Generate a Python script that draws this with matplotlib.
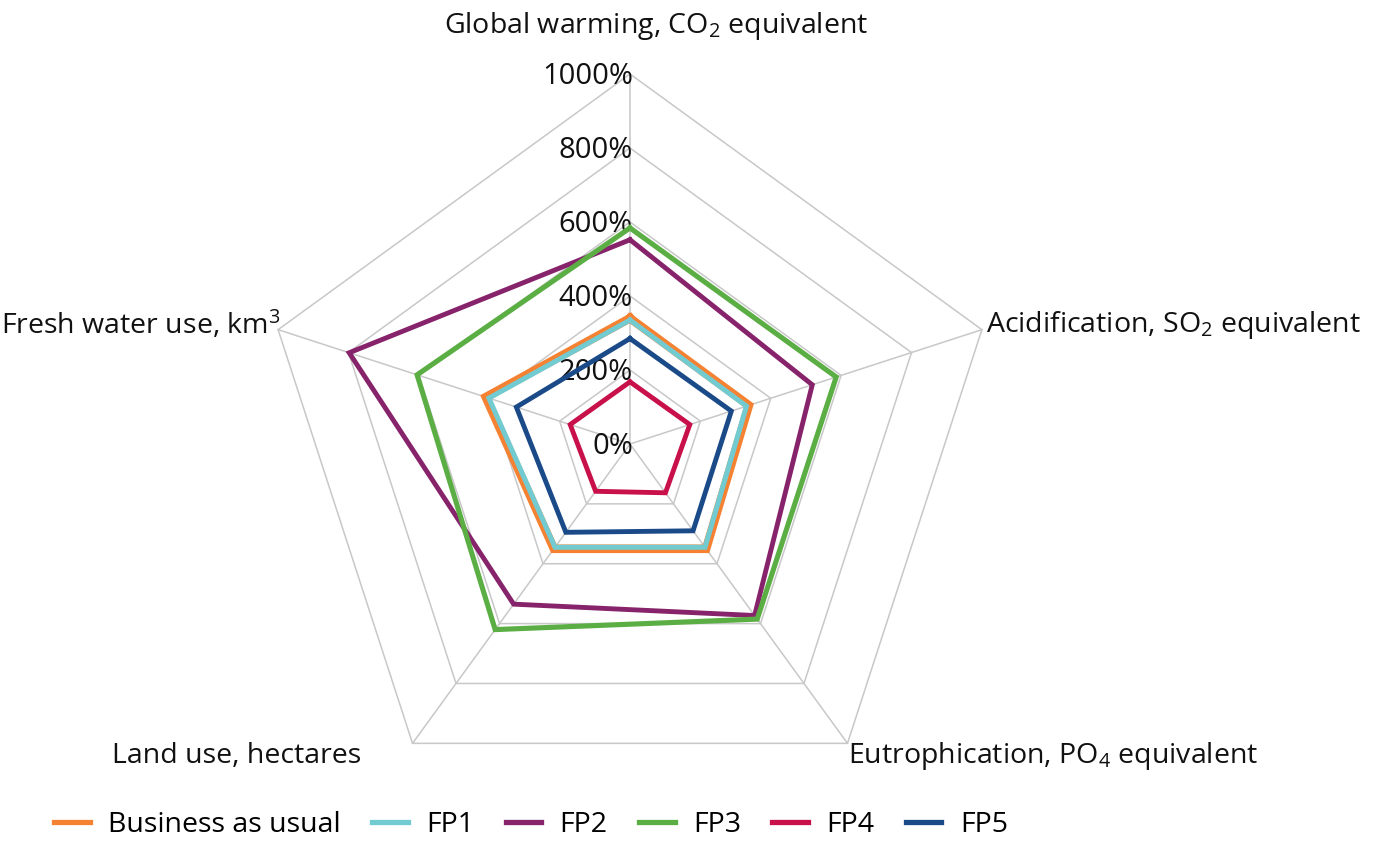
import numpy as np
import matplotlib.pyplot as plt

plt.rcParams['font.family'] = ['Open Sans', 'DejaVu Sans']
plt.rcParams['mathtext.default'] = 'regular'

# categories, clockwise from the top
categories = ['Global warming, CO$_2$ equivalent',
              'Acidification, SO$_2$ equivalent',
              'Eutrophication, PO$_4$ equivalent',
              'Land use, hectares',
              'Fresh water use, km$^3$']

series = ['Business as usual', 'FP1', 'FP2', 'FP3', 'FP4', 'FP5']
bau = [340, 338, 350, 350, 410]
fp1 = [335, 331, 345, 345, 401]
fp2 = [552, 518, 573, 535, 798]
fp3 = [584, 586, 585, 620, 605]
fp4 = [168, 170, 163, 158, 170]
fp5 = [285, 288, 290, 295, 323]

ticks = [0, 200, 400, 600, 800, 1000]
tick_labels = ['0%', '200%', '400%', '600%', '800%', '1000%']

colors = ['#F58232', '#72CBD1', '#86236B', '#5BAE44', '#C8104A', '#1B4A89']
widths = [6.2, 3.6, 3.5, 3.7, 3.5, 3.5]

W, H = 1379, 841
fig = plt.figure(figsize=(W / 100, H / 100), dpi=100)
cx, cy, R = 630, 841 - 444, 370
ax = fig.add_axes([(cx - R) / W, (cy - R) / H, 2 * R / W, 2 * R / H], projection='polar')
ax.set_theta_offset(np.pi / 2)
ax.set_theta_direction(-1)
ax.set_ylim(0, 1000)
ax.grid(False)
ax.spines['polar'].set_visible(False)
ax.set_xticks([])
ax.set_yticks([])
ax.patch.set_alpha(0)

n = len(categories)
theta = np.linspace(0, 2 * np.pi, n, endpoint=False)
closed = np.append(theta, theta[0])

# polygon grid + spokes
for t in ticks[1:]:
    ax.plot(closed, [t] * (n + 1), color='#C8C8C8', lw=1.1, zorder=1, clip_on=False)
for th in theta:
    ax.plot([th, th], [0, 1000], color='#C8C8C8', lw=1.1, zorder=1, clip_on=False)

data = [bau, fp1, fp2, fp3, fp4, fp5]
for name, vals, c, lw in zip(series, data, colors, widths):
    ax.plot(closed, vals + vals[:1], color=c, lw=lw, label=name, zorder=3,
            solid_joinstyle='miter', clip_on=False)

# tick labels along the top spoke
for t, lab in zip(ticks, tick_labels):
    ax.annotate(lab, xy=(0, t), xytext=(3, -3), textcoords='offset pixels',
                ha='right', va='center', fontsize=21, color='#111111', zorder=2)

# category labels
offsets = [(26, 48, 'center'), (4, 5, 'left'), (1, -13, 'left'),
           (-51, -13, 'right'), (2, 5, 'right')]
for th, lab, (dx, dy, ha) in zip(theta, categories, offsets):
    ax.annotate(lab, xy=(th, 1000), xytext=(dx, dy), textcoords='offset pixels',
                ha=ha, va='center', fontsize=20.5, color='#111111')

leg = fig.legend(loc='center', bbox_to_anchor=(531 / W, 1 - 825 / H), ncol=6,
                 frameon=False, handlelength=1.25, handletextpad=0.65,
                 columnspacing=1.1,
                 prop={'size': 20.5})
for h in leg.get_lines():
    h.set_linewidth(3.8)

fig.savefig('out.png', dpi=100)
